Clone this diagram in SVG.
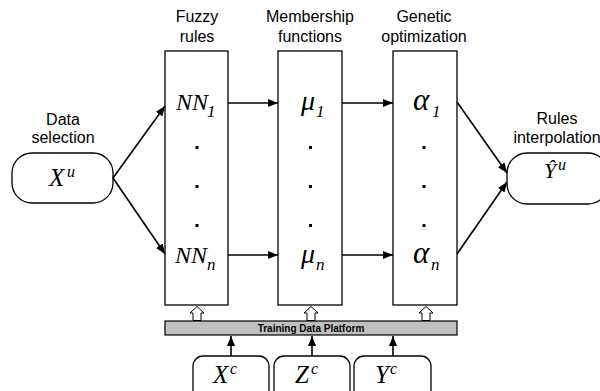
<svg xmlns="http://www.w3.org/2000/svg" width="600" height="391" viewBox="0 0 600 391">
<style>
.lbl{font-family:"Liberation Sans",Arial,sans-serif;font-size:16px;fill:#000;text-anchor:middle}
.m{font-family:"Liberation Serif","Times New Roman",serif;font-style:italic;fill:#000}
.box{fill:#fff;stroke:#000;stroke-width:1.3}
.c{stroke:#000;stroke-width:1.6;fill:none}
.dot{fill:#000}
.hol{fill:#fff;stroke:#000;stroke-width:1}
</style>
<defs>
<marker id="ah" viewBox="0 0 10 8" refX="10" refY="4" markerWidth="10" markerHeight="8" markerUnits="userSpaceOnUse" orient="auto">
<path d="M0,0 L10,4 L0,8 Z" fill="#000"/>
</marker>
</defs>
<rect width="600" height="391" fill="#fff"/>

<g id="labels">
<text class="lbl" x="197" y="22">Fuzzy</text>
<text class="lbl" x="197" y="42">rules</text>
<text class="lbl" x="310" y="22">Membership</text>
<text class="lbl" x="310" y="42">functions</text>
<text class="lbl" x="424" y="22">Genetic</text>
<text class="lbl" x="424" y="42">optimization</text>
<text class="lbl" x="63" y="125">Data</text>
<text class="lbl" x="63" y="143">selection</text>
<text class="lbl" x="557" y="124">Rules</text>
<text class="lbl" x="557" y="143">interpolation</text>
</g>

<g id="node-xu">
<rect class="box" x="12" y="153" width="101" height="50" rx="20"/>
<text class="m" x="49" y="186" font-size="25">X</text>
<text class="m" x="67" y="177" font-size="16">u</text>
</g>

<g id="node-fuzzy">
<rect class="box" x="165" y="51" width="63" height="254"/>
<text class="m" x="176" y="110" font-size="24">NN</text>
<text class="m" x="207" y="117" font-size="17">1</text>
<rect class="dot" x="195.5" y="146" width="3" height="3"/>
<rect class="dot" x="195.5" y="185" width="3" height="3"/>
<rect class="dot" x="195.5" y="224" width="3" height="3"/>
<text class="m" x="175" y="263" font-size="24">NN</text>
<text class="m" x="207" y="270" font-size="17">n</text>
</g>

<g id="node-membership">
<rect class="box" x="278" y="51" width="64" height="254"/>
<text class="m" x="301" y="110" font-size="28">μ</text>
<text class="m" x="316" y="117" font-size="17">1</text>
<rect class="dot" x="309" y="146" width="3" height="3"/>
<rect class="dot" x="309" y="185" width="3" height="3"/>
<rect class="dot" x="309" y="224" width="3" height="3"/>
<text class="m" x="301" y="263" font-size="28">μ</text>
<text class="m" x="316" y="270" font-size="17">n</text>
</g>

<g id="node-genetic">
<rect class="box" x="393" y="51" width="64" height="254"/>
<text class="m" x="413" y="110" font-size="31">α</text>
<text class="m" x="432" y="117" font-size="17">1</text>
<rect class="dot" x="422.5" y="146" width="3" height="3"/>
<rect class="dot" x="422.5" y="185" width="3" height="3"/>
<rect class="dot" x="422.5" y="224" width="3" height="3"/>
<text class="m" x="413" y="263" font-size="31">α</text>
<text class="m" x="431" y="270" font-size="17">n</text>
</g>

<g id="node-yu">
<rect class="box" x="507" y="153" width="101" height="51" rx="20"/>
<text class="m" x="544" y="178" font-size="22">Ŷ</text>
<text class="m" x="558" y="170" font-size="16">u</text>
</g>

<g id="node-platform">
<rect x="165" y="321" width="292" height="14" fill="#c0c0c0" stroke="#000" stroke-width="1.2"/>
<text x="311" y="332" font-family="'Liberation Sans',Arial,sans-serif" font-size="10" font-weight="bold" text-anchor="middle">Training Data Platform</text>
</g>

<g id="node-xc">
<rect class="box" x="193" y="356" width="76" height="50" rx="10"/>
<text class="m" x="213" y="383" font-size="25">X</text>
<text class="m" x="230" y="374" font-size="16">c</text>
</g>
<g id="node-zc">
<rect class="box" x="274" y="356" width="76" height="50" rx="10"/>
<text class="m" x="295" y="383" font-size="25">Z</text>
<text class="m" x="311" y="374" font-size="16">c</text>
</g>
<g id="node-yc">
<rect class="box" x="354" y="356" width="77" height="50" rx="10"/>
<text class="m" x="375" y="383" font-size="25">Y</text>
<text class="m" x="390" y="374" font-size="16">c</text>
</g>

<g id="connectors">
<line class="c" x1="113" y1="178" x2="165" y2="106" marker-end="url(#ah)"/>
<line class="c" x1="113" y1="178" x2="165" y2="254" marker-end="url(#ah)"/>
<line class="c" x1="228" y1="103" x2="278" y2="103" marker-end="url(#ah)"/>
<line class="c" x1="228" y1="255" x2="278" y2="255" marker-end="url(#ah)"/>
<line class="c" x1="342" y1="103" x2="393" y2="103" marker-end="url(#ah)"/>
<line class="c" x1="342" y1="255" x2="393" y2="255" marker-end="url(#ah)"/>
<line class="c" x1="457" y1="102" x2="507" y2="173" marker-end="url(#ah)"/>
<line class="c" x1="457" y1="254" x2="507" y2="182" marker-end="url(#ah)"/>
<line class="c" x1="231" y1="356" x2="231" y2="336" marker-end="url(#ah)"/>
<line class="c" x1="312" y1="356" x2="312" y2="336" marker-end="url(#ah)"/>
<line class="c" x1="393" y1="356" x2="393" y2="336" marker-end="url(#ah)"/>
<polygon class="hol" points="197,306.5 204,313 201,313 201,320.5 193,320.5 193,313 190,313"/>
<polygon class="hol" points="311,306.5 318,313 315,313 315,320.5 307,320.5 307,313 304,313"/>
<polygon class="hol" points="426,306.5 433,313 430,313 430,320.5 422,320.5 422,313 419,313"/>
</g>
</svg>
